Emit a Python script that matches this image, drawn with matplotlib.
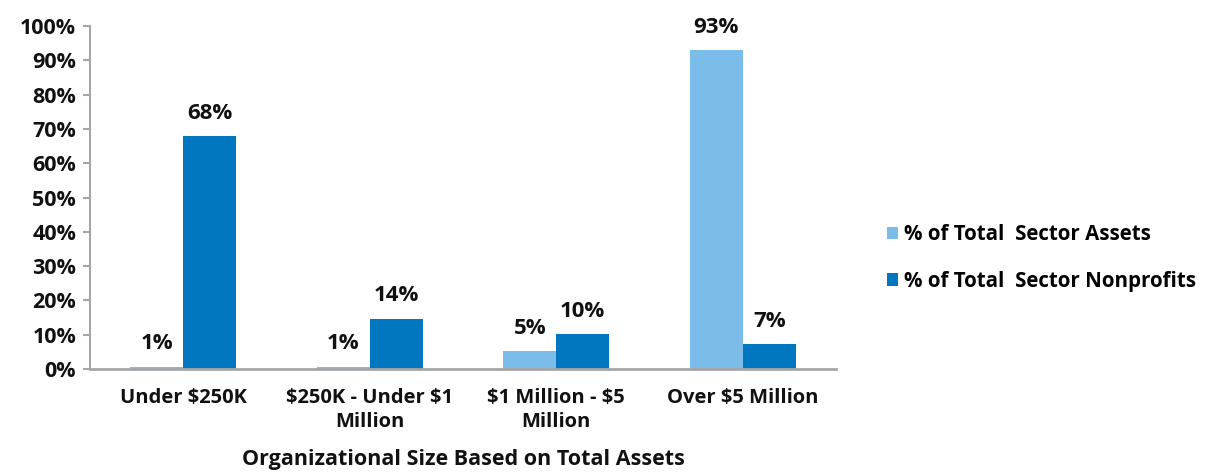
import matplotlib
matplotlib.use("Agg")
import matplotlib.pyplot as plt
import numpy as np

categories = ["Under \\$250K", "\\$250K - Under \\$1\nMillion", "\\$1 Million - \\$5\nMillion", "Over \\$5 Million"]
assets = [0.7, 0.7, 5.2, 92.9]
nonprofits = [67.8, 14.7, 10.2, 7.2]
asset_labels = ["1%", "1%", "5%", "93%"]
nonprofit_labels = ["68%", "14%", "10%", "7%"]
yticks = [0, 10, 20, 30, 40, 50, 60, 70, 80, 90, 100]
ytick_labels = [f"{v}%" for v in yticks]

plt.rcParams['font.family'] = ['Open Sans', 'DejaVu Sans']
plt.rcParams['font.weight'] = 'bold'

fig = plt.figure(figsize=(12.12, 4.72), dpi=100)
ax = fig.add_axes([90/1212, 1-369/472, (836-90)/1212, (369-26)/472])

x = np.arange(len(categories))
w = 0.284
c1 = "#7BBDE8"
c2 = "#0077C0"
b1 = ax.bar(x - w/2, assets, w, color=c1, label="% of Total  Sector Assets")
b2 = ax.bar(x + w/2, nonprofits, w, color=c2, label="% of Total  Sector Nonprofits")

for rect, lab in zip(b1, asset_labels):
    ax.annotate(lab, (rect.get_x() + rect.get_width()/2, rect.get_height()),
                xytext=(0, 9), textcoords="offset points", ha="center", va="bottom",
                fontsize=16, fontweight="bold", color="#111111")
for rect, lab in zip(b2, nonprofit_labels):
    ax.annotate(lab, (rect.get_x() + rect.get_width()/2, rect.get_height()),
                xytext=(0, 9), textcoords="offset points", ha="center", va="bottom",
                fontsize=16, fontweight="bold", color="#111111")

ax.set_xlim(-0.5, 3.5)
ax.set_ylim(0, 100)
ax.set_yticks(yticks)
ax.set_yticklabels(ytick_labels, fontsize=15.5, fontweight="bold", color="#111111")
ax.set_xticks(x)
ax.set_xticklabels(categories, fontsize=14.5, fontweight="bold", color="#111111", linespacing=1.25)
ax.tick_params(axis="x", length=0, pad=14)
ax.tick_params(axis="y", length=5, width=1.5, color="#A6A6A6", pad=5)
for s in ["top", "right"]:
    ax.spines[s].set_visible(False)
ax.spines["left"].set_color("#A6A6A6")
ax.spines["left"].set_linewidth(1.5)
ax.spines["bottom"].set_color("#A6A6A6")
ax.spines["bottom"].set_linewidth(2)
ax.set_xlabel("Organizational Size Based on Total Assets", fontsize=15.5, fontweight="bold",
              color="#111111", labelpad=12)

leg = fig.legend(loc="center left", bbox_to_anchor=(868/1212, 1-258/472), frameon=False,
                 handlelength=0.55, handleheight=0.55, handletextpad=0.3,
                 labelspacing=1.25, prop={'weight': 'bold', 'size': 14.8})

fig.savefig("out.png", dpi=100)
